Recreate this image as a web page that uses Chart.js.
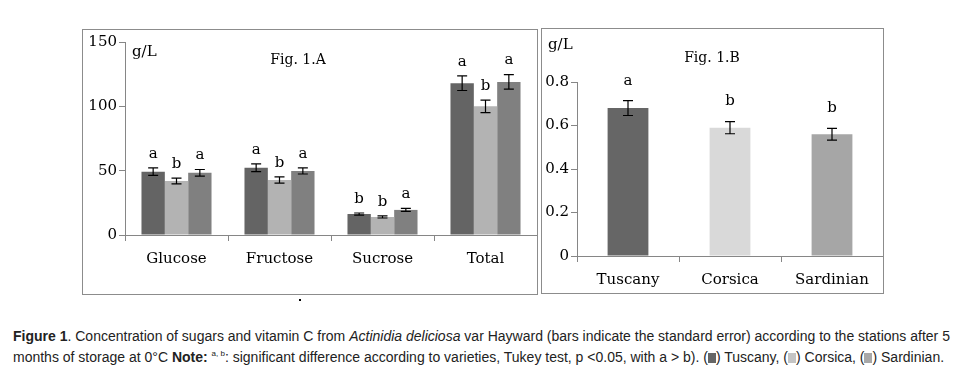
<!DOCTYPE html>
<html>
<head>
<meta charset="utf-8">
<script src="https://cdn.jsdelivr.net/npm/chart.js@4"></script>
<style>
  body { margin: 0; background: #fff; width: 954px; height: 367px; position: relative; overflow: hidden; }
  .frame { position: absolute; border: 1px solid #8c8c8c; box-sizing: border-box; }
  .frame canvas { position: absolute; left: 0; top: 0; }
  #caption { position: absolute; left: 13px; top: 328px; width: 940px; font-family: "Liberation Sans Narrow", "Arial Narrow", sans-serif; font-size: 14px; line-height: 17px; color: #222; white-space: nowrap; }
  .sq { display: inline-block; width: 8px; height: 10px; vertical-align: -1px; }
  #dot { position: absolute; left: 299px; top: 299px; width: 2px; height: 2px; background: #000; }
</style>
</head>
<body>
<div class="frame" style="left:82px; top:29px; width:456px; height:266px;"><canvas id="sugars" width="454" height="264"></canvas></div>
<div class="frame" style="left:541px; top:28px; width:343px; height:266px;"><canvas id="vitc" width="341" height="264"></canvas></div>
<div id="dot"></div>
<div id="caption">
  <b>Figure 1</b>. Concentration of sugars and vitamin C from <i>Actinidia deliciosa</i> var Hayward (bars indicate the standard error) according to the stations after 5<br>
  months of storage at 0°C <b>Note:</b> <sup style="font-size:8px">a, b</sup>: significant difference according to varieties, Tukey test, p &lt;0.05, with a &gt; b). (<span class="sq" style="background:#666"></span>) Tuscany, (<span class="sq" style="background:#c4c4c4"></span>) Corsica, (<span class="sq" style="background:#a8a8a8"></span>) Sardinian.
</div>
<script>
// Fig 1.A sugars (g/L)
const sugarLabels = ['Glucose', 'Fructose', 'Sucrose', 'Total'];
const tuscany = [49.2, 52.3, 16.3, 118];
const corsica = [42.0, 42.7, 14.0, 100];
const sardinian = [48.3, 49.8, 19.5, 119];
const tuscanyErr = [2.9, 3.0, 0.8, 5.7];
const corsicaErr = [2.2, 2.4, 0.8, 4.9];
const sardinianErr = [2.6, 2.4, 1.2, 5.7];
const tuscanyLetters = ['a', 'a', 'b', 'a'];
const corsicaLetters = ['b', 'b', 'b', 'b'];
const sardinianLetters = ['a', 'a', 'a', 'a'];
const sugarTicks = [0, 50, 100, 150];

// Fig 1.B vitamin C (g/L)
const stations = ['Tuscany', 'Corsica', 'Sardinian'];
const vitC = [0.68, 0.59, 0.56];
const vitCErr = [0.034, 0.028, 0.027];
const vitCLetters = ['a', 'b', 'b'];
const vitCTicks = [0, 0.2, 0.4, 0.6, 0.8];

const serif = "'DejaVu Serif', serif";
const axisGray = '#868686';

// draws error bars and significance letters over each bar
const errorBars = {
  id: 'errorBars',
  afterDatasetsDraw(chart, args, opts) {
    const ctx = chart.ctx;
    const y = chart.scales.y;
    ctx.save();
    chart.data.datasets.forEach((ds, di) => {
      const meta = chart.getDatasetMeta(di);
      meta.data.forEach((bar, i) => {
        const v = ds.data[i], e = ds.err[i];
        const top = y.getPixelForValue(v + e), bot = y.getPixelForValue(v - e);
        ctx.strokeStyle = '#000';
        ctx.lineWidth = 1.2;
        ctx.beginPath();
        ctx.moveTo(bar.x, top); ctx.lineTo(bar.x, bot);
        ctx.moveTo(bar.x - 5, top); ctx.lineTo(bar.x + 5, top);
        ctx.moveTo(bar.x - 5, bot); ctx.lineTo(bar.x + 5, bot);
        ctx.stroke();
        ctx.fillStyle = '#000';
        ctx.font = '15px ' + serif;
        ctx.textAlign = 'center';
        ctx.textBaseline = 'middle';
        ctx.fillText(ds.letters[i], bar.x, top - opts.gap);
      });
    });
    ctx.restore();
  }
};

// fixed texts inside each frame (unit and panel title)
const panelText = {
  id: 'panelText',
  afterDraw(chart, args, opts) {
    const ctx = chart.ctx;
    ctx.save();
    ctx.fillStyle = '#000';
    ctx.textBaseline = 'middle';
    ctx.font = '15px ' + serif;
    ctx.textAlign = 'left';
    ctx.fillText('g/L', opts.unitX, opts.unitY);
    ctx.font = '14px ' + serif;
    ctx.textAlign = 'center';
    ctx.fillText(opts.title, opts.titleX, opts.titleY);
    ctx.restore();
  }
};

function baseScales(ticksArr, yWidth, xHeight, max) {
  return {
    x: {
      grid: { display: true, drawOnChartArea: false, drawTicks: true, tickLength: 6, color: axisGray, offset: true },
      border: { color: axisGray, width: 1 },
      ticks: { color: '#000', font: { family: serif, size: 15 }, padding: 9, maxRotation: 0, autoSkip: false },
      afterFit(s) { s.height = xHeight; }
    },
    y: {
      min: 0, max: max,
      afterBuildTicks(s) { s.ticks = ticksArr.map(v => ({ value: v })); },
      grid: { display: true, drawOnChartArea: false, drawTicks: true, tickLength: 6, color: axisGray },
      border: { color: axisGray, width: 1 },
      ticks: { color: '#000', font: { family: serif, size: 15 }, padding: 2 },
      afterFit(s) { s.width = yWidth; }
    }
  };
}

new Chart(document.getElementById('sugars'), {
  type: 'bar',
  data: {
    labels: sugarLabels,
    datasets: [
      { label: 'Tuscany', data: tuscany, err: tuscanyErr, letters: tuscanyLetters, backgroundColor: '#646464' },
      { label: 'Corsica', data: corsica, err: corsicaErr, letters: corsicaLetters, backgroundColor: '#b3b3b3' },
      { label: 'Sardinian', data: sardinian, err: sardinianErr, letters: sardinianLetters, backgroundColor: '#808080' }
    ]
  },
  options: {
    responsive: false, animation: false,
    categoryPercentage: 0.68, barPercentage: 1.0,
    layout: { padding: { left: 0, top: 12, right: 0, bottom: 0 } },
    plugins: {
      legend: { display: false }, tooltip: { enabled: false },
      errorBars: { gap: 14 },
      panelText: { title: 'Fig. 1.A', unitX: 49, unitY: 22, titleX: 215, titleY: 30 }
    },
    scales: baseScales(sugarTicks, 42, 59, 150)
  },
  plugins: [errorBars, panelText]
});

new Chart(document.getElementById('vitc'), {
  type: 'bar',
  data: {
    labels: stations,
    datasets: [
      { label: 'Vitamin C', data: vitC, err: vitCErr, letters: vitCLetters, backgroundColor: ['#666666', '#d9d9d9', '#a6a6a6'] }
    ]
  },
  options: {
    responsive: false, animation: false,
    categoryPercentage: 0.4, barPercentage: 1.0,
    layout: { padding: { left: 0, top: 53, right: 0, bottom: 0 } },
    plugins: {
      legend: { display: false }, tooltip: { enabled: false },
      errorBars: { gap: 20 },
      panelText: { title: 'Fig. 1.B', unitX: 6, unitY: 16, titleX: 170, titleY: 29 }
    },
    scales: baseScales(vitCTicks, 35, 37, 0.8)
  },
  plugins: [errorBars, panelText]
});
</script>
</body>
</html>
